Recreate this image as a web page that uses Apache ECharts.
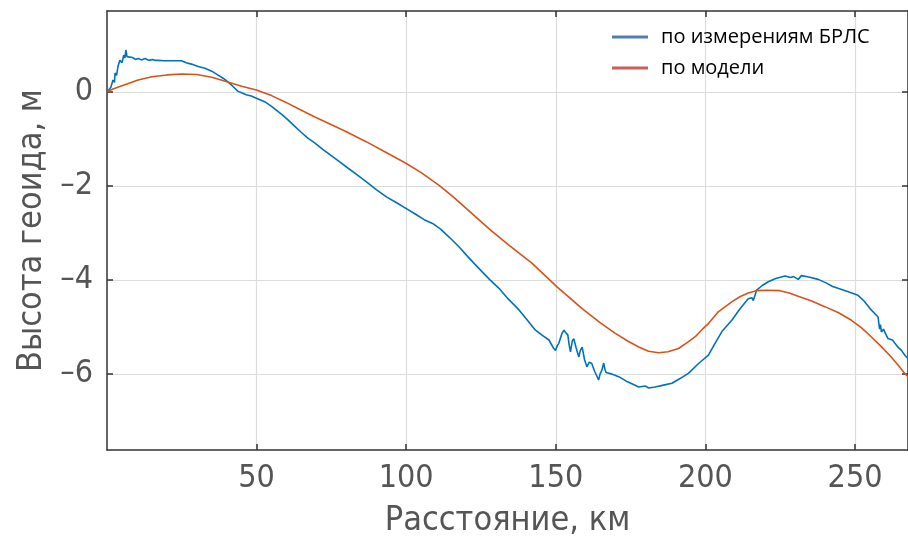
<!DOCTYPE html>
<html>
<head>
<meta charset="utf-8">
<script src="https://cdn.jsdelivr.net/npm/echarts@6/dist/echarts.min.js"></script>
<style>
  html, body { margin: 0; padding: 0; background: #fff; }
  #chart { width: 908px; height: 546px; }
</style>
</head>
<body>
<div id="chart"></div>
<script>
// по измерениям БРЛС: расстояние (км) и высота геоида (м)
const radarKm = [0, 0.7, 1.3, 2.0, 2.5, 2.7, 3.2, 3.7, 4.3, 5.0, 5.6, 6.0, 6.3, 6.7, 7.1, 8.5, 9.5, 10.5, 11.5, 12.7,
  14, 15.2, 16, 17.1, 19, 21, 23, 24.9, 26.5, 28.2, 30.5, 32.7, 35, 37, 38.8, 40.4, 42, 43.8, 45, 46.5,
  48.2, 50.5, 52.7, 55, 57, 58.8, 60.4, 62.5, 64.9, 67, 69.3, 72, 75.4, 78, 80.5, 83.5, 86.6, 90, 93.5, 96.8,
  99.9, 103, 106, 108.8, 111.5, 114.5, 117.7, 120.5, 123, 125.4, 128, 131, 134, 137.7, 140.5, 143.2, 145.5, 147.7, 149.2, 149.9,
  150.5, 151, 152, 152.7, 153.3, 154, 154.5, 154.9, 155.5, 156, 156.8, 157.7, 158.2, 158.8, 159.6, 160.4, 161.2, 162,
  163, 164.3, 164.8, 165.4, 166, 166.4, 166.8, 168.5, 171, 174, 177.7, 180, 181, 183.2, 186, 188.8, 191.5, 194.3,
  197.7, 201, 203.2, 205.5, 208.8, 211.5, 214.3, 215.5, 216, 217.1, 219, 221, 223.5, 226.6, 228.5, 229.5, 231, 232.1,
  234.5, 237.7, 240.5, 242.5, 244.3, 247.5, 251, 253, 255.4, 257.7, 258.2, 258.5, 258.8, 259.5, 261, 262.5, 264.3, 265.5,
  266.6, 267.7];
const radarH = [0, 0.05, 0.1, 0.25, 0.2, 0.4, 0.35, 0.55, 0.67, 0.62, 0.78, 0.72, 0.89, 0.75, 0.71, 0.73, 0.69, 0.71, 0.68, 0.71,
  0.67, 0.69, 0.67, 0.67, 0.66, 0.66, 0.66, 0.66, 0.62, 0.59, 0.54, 0.50, 0.44, 0.36, 0.29, 0.21, 0.12, 0.01, -0.02, -0.06,
  -0.09, -0.15, -0.21, -0.31, -0.41, -0.50, -0.59, -0.72, -0.86, -0.98, -1.08, -1.22, -1.38, -1.50, -1.62, -1.76, -1.91, -2.08, -2.24, -2.36,
  -2.48, -2.60, -2.72, -2.80, -2.92, -3.10, -3.30, -3.50, -3.67, -3.83, -4.00, -4.18, -4.40, -4.64, -4.86, -5.07, -5.18, -5.28, -5.45, -5.50,
  -5.40, -5.35, -5.15, -5.07, -5.12, -5.17, -5.40, -5.53, -5.30, -5.25, -5.45, -5.64, -5.50, -5.43, -5.70, -5.85, -5.75, -5.78,
  -5.95, -6.13, -6.00, -5.92, -5.77, -5.90, -5.97, -6.00, -6.06, -6.17, -6.28, -6.26, -6.30, -6.28, -6.24, -6.20, -6.10, -5.99,
  -5.78, -5.60, -5.35, -5.10, -4.86, -4.62, -4.40, -4.38, -4.44, -4.22, -4.12, -4.04, -3.97, -3.92, -3.95, -3.93, -3.99, -3.91,
  -3.94, -3.99, -4.07, -4.14, -4.18, -4.25, -4.33, -4.45, -4.64, -4.79, -5.05, -4.95, -5.11, -5.05, -5.25, -5.28, -5.43, -5.50,
  -5.60, -5.68];

// по модели
const modelKm = [0, 2, 5, 10.4, 15, 20, 25, 30, 35, 40.4, 45, 49.9, 55, 60, 64.3, 69.3, 75.4, 80, 86.6, 93,
  99.9, 105, 111, 116, 122, 128, 134.3, 142.1, 150.4, 158.8, 165, 169.9, 174, 177.7, 181, 184.3, 187.5, 191, 194, 196.6,
  199, 201, 204.3, 208.8, 211.5, 214.3, 217, 219.9, 224.9, 228, 231, 235.5, 239.9, 244.5, 248.8, 252, 255.4, 258.8, 262.1, 264.5,
  266.6, 267.7];
const modelH = [0, 0.06, 0.13, 0.25, 0.32, 0.36, 0.38, 0.37, 0.31, 0.21, 0.12, 0.04, -0.08, -0.23, -0.37, -0.53, -0.71, -0.85, -1.06, -1.28,
  -1.52, -1.72, -1.99, -2.25, -2.59, -2.93, -3.26, -3.65, -4.15, -4.61, -4.92, -5.14, -5.30, -5.43, -5.52, -5.55, -5.53, -5.46, -5.33, -5.21,
  -5.05, -4.93, -4.68, -4.47, -4.36, -4.28, -4.23, -4.22, -4.23, -4.28, -4.35, -4.45, -4.57, -4.70, -4.86, -5.01, -5.21, -5.42, -5.64, -5.82,
  -5.99, -6.06];

const xTicks = [50, 100, 150, 200, 250];
const yTicks = [-6, -4, -2, 0];
const seriesNames = ['по измерениям БРЛС', 'по модели'];

const narrow = "'Liberation Sans Narrow', 'DejaVu Sans Condensed', sans-serif";
const axisColor = '#333';
const gridColor = '#dcdcdc';

const chart = echarts.init(document.getElementById('chart'), null, { renderer: 'canvas' });

const lineStyle = { color: axisColor, width: 1.5 };

chart.setOption({
  animation: false,
  grid: { left: 107, top: 11, right: -2, bottom: 96, containLabel: false },
  legend: {
    orient: 'vertical',
    left: 607,
    top: 22,
    itemWidth: 36,
    itemHeight: 3,
    itemGap: 11,
    icon: 'rect',
    textStyle: { fontFamily: "'Open Sans', sans-serif", fontSize: 20, color: '#000', padding: [0, 0, 0, 8] },
    data: [
      { name: seriesNames[0], itemStyle: { color: '#4F7DB8' } },
      { name: seriesNames[1], itemStyle: { color: '#CD5F5A' } }
    ]
  },
  xAxis: [
    {
      type: 'value',
      min: 0,
      max: 267.7,
      position: 'bottom',
      name: 'Расстояние, км',
      nameLocation: 'middle',
      nameGap: 54,
      nameTextStyle: { fontFamily: narrow, fontSize: 34, color: '#555' },
      axisLine: { show: true, onZero: false, lineStyle },
      axisTick: { show: true, inside: true, length: 6, lineStyle, customValues: xTicks },
      axisLabel: { margin: 13, fontFamily: narrow, fontSize: 32, color: '#555', customValues: xTicks },
      splitLine: { show: true, lineStyle: { color: gridColor, width: 1.2 } }
    },
    {
      type: 'value',
      min: 0,
      max: 267.7,
      position: 'top',
      axisLine: { show: true, onZero: false, lineStyle },
      axisTick: { show: true, inside: true, length: 6, lineStyle, customValues: xTicks },
      axisLabel: { show: false },
      splitLine: { show: false }
    }
  ],
  yAxis: [
    {
      type: 'value',
      min: -7.62,
      max: 1.72,
      position: 'left',
      name: 'Высота геоида, м',
      nameLocation: 'middle',
      nameGap: 57,
      nameTextStyle: { fontFamily: narrow, fontSize: 34, color: '#555' },
      axisLine: { show: true, onZero: false, lineStyle },
      axisTick: { show: true, inside: true, length: 6, lineStyle, customValues: yTicks },
      axisLabel: {
        margin: 14, fontFamily: narrow, fontSize: 32, color: '#555', customValues: yTicks,
        formatter: v => String(v).replace('-', '\u2013')
      },
      splitLine: { show: true, lineStyle: { color: gridColor, width: 1.2 } }
    },
    {
      type: 'value',
      min: -7.62,
      max: 1.72,
      position: 'right',
      axisLine: { show: true, onZero: false, lineStyle },
      axisTick: { show: true, inside: true, length: 6, lineStyle, customValues: yTicks },
      axisLabel: { show: false },
      splitLine: { show: false }
    }
  ],
  series: [
    {
      name: seriesNames[0],
      type: 'line',
      showSymbol: false,
      color: '#0072BD',
      lineStyle: { width: 1.6, color: '#0072BD' },
      data: radarKm.map((x, i) => [x, radarH[i]])
    },
    {
      name: seriesNames[1],
      type: 'line',
      showSymbol: false,
      color: '#D95319',
      lineStyle: { width: 1.6, color: '#D95319' },
      data: modelKm.map((x, i) => [x, modelH[i]])
    }
  ]
});
</script>
</body>
</html>
